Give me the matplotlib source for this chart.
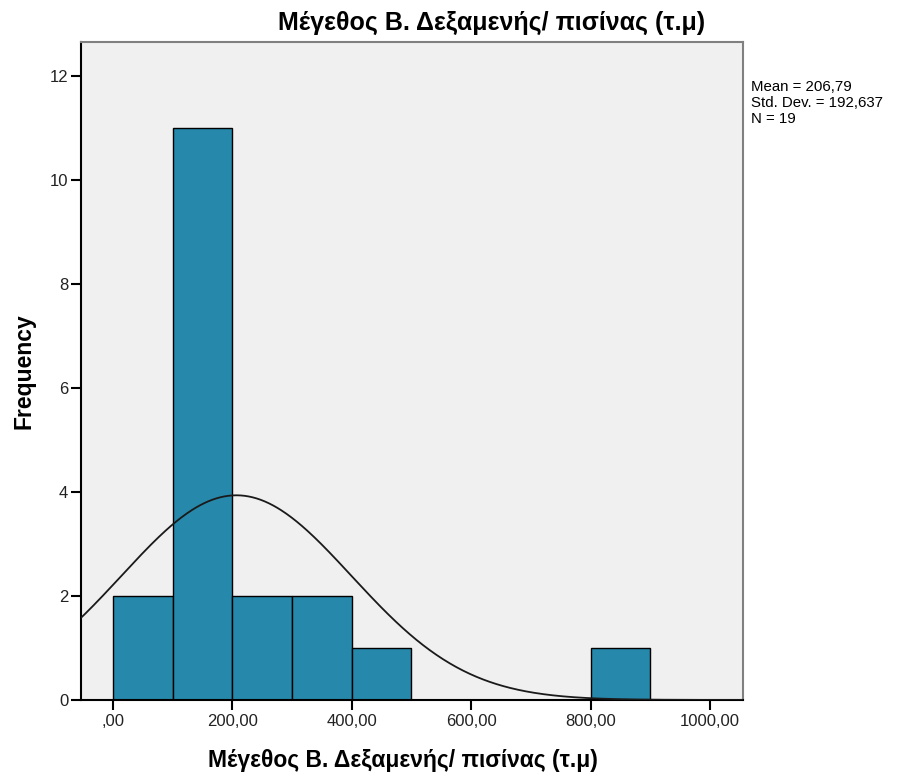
import numpy as np
import matplotlib.pyplot as plt

# histogram data (bin edges width 100)
bin_left = [0, 100, 200, 300, 400, 800]
counts = [2, 11, 2, 2, 1, 1]
bin_width = 100

mean = 206.79
std = 192.637
n = 19

xticks = [0, 200, 400, 600, 800, 1000]
xtick_labels = [",00", "200,00", "400,00", "600,00", "800,00", "1000,00"]
yticks = [0, 2, 4, 6, 8, 10, 12]

title = "Μέγεθος Β. Δεξαμενής/ πισίνας (τ.μ)"

plt.rcParams['font.family'] = ['Liberation Sans', 'DejaVu Sans']

fig = plt.figure(figsize=(9.12, 7.8), dpi=100)
ax = fig.add_axes([0.0885, 0.1026, 0.726, 0.8436])
ax.set_facecolor('#F0F0F0')

ax.bar(bin_left, counts, width=bin_width, align='edge',
       color='#2688AA', edgecolor='black', linewidth=1.0, zorder=2)

# normal curve scaled to the histogram
xs = np.linspace(-60, 1060, 500)
ys = n * bin_width * np.exp(-0.5 * ((xs - mean) / std) ** 2) / (std * np.sqrt(2 * np.pi))
ax.plot(xs, ys, color='#1a1a1a', linewidth=1.3, zorder=3)

ax.set_xlim(-54, 1055)
ax.set_ylim(0, 12.65)
ax.set_xticks(xticks)
ax.set_xticklabels(xtick_labels)
ax.set_yticks(yticks)
ax.tick_params(direction='out', length=7, width=1.5, labelsize=12,
               colors='black', labelcolor='#222222')
ax.tick_params(axis='x', pad=3)
ax.tick_params(axis='y', pad=2)

for s in ['left', 'bottom']:
    ax.spines[s].set_linewidth(1.5)
for s in ['top', 'right']:
    ax.spines[s].set_color('#808080')
    ax.spines[s].set_linewidth(1.5)

ax.set_title(title, fontsize=18, fontweight='bold', pad=9, x=0.621)
ax.set_xlabel(title, fontsize=16.5, fontweight='bold', labelpad=18)
ax.xaxis.set_label_coords(0.486, -0.075)
ax.set_ylabel("Frequency", fontsize=16.5, fontweight='bold', labelpad=10)

fig.text(0.824, 0.898, "Mean = 206,79\nStd. Dev. = 192,637\nN = 19",
         fontsize=10.8, va='top', ha='left', linespacing=1.18)

fig.savefig("out.png", dpi=100, facecolor='white')
